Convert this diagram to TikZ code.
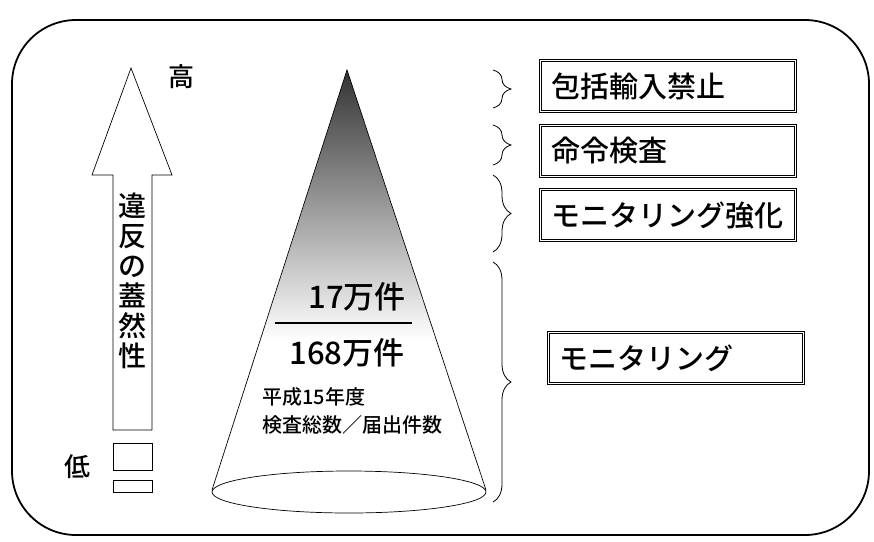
\documentclass[tikz,border=0pt]{standalone}
\usepackage{fontspec}
\setmainfont{Noto Sans CJK JP}[UprightFont=* Medium]
\usetikzlibrary{decorations.pathreplacing}

\tikzset{
	measure/.style={draw, double, line width=0.9pt, double distance=1.3pt, text width=233pt, inner xsep=11pt, minimum height=51pt, align=left, anchor=west, font=\fontsize{29}{32}\selectfont},
	curly/.style={decorate, decoration={brace, amplitude=18pt, aspect=0.5}, line width=0.8pt},
	lowbox/.style={draw, line width=0.7pt, minimum width=39pt, inner sep=0pt},
}

\begin{document}
\begin{tikzpicture}[x=1pt, y=-1pt]
			\useasboundingbox (0,0) rectangle (874,541);
			\draw[line width=1.8pt, rounded corners=64pt] (12,20) rectangle (869,535);

			\draw[line width=0.7pt, fill=white] (131,68) -- (172,175) -- (152,175) -- (152,430) -- (113,430) -- (113,175) -- (92,175) -- cycle;
			\node[align=center, font=\fontsize{28}{30}\selectfont] (likely) at (132,281) {違\\反\\の\\蓋\\然\\性};
			\node[font=\fontsize{26}{28}\selectfont] (high) at (181,77) {高};
			\node[font=\fontsize{26}{28}\selectfont] (low) at (77,467) {低};
			\node[lowbox, minimum height=27pt] (lowbox1) at (132.5,456.5) {};
			\node[lowbox, minimum height=12pt] (lowbox2) at (132.5,486) {};

			\begin{scope}
				\clip (347,70) -- (212,492) -- (486,492) -- cycle;
				\shade[top color=black!80, bottom color=white] (200,70) rectangle (500,340);
			\end{scope}
			\draw[line width=0.7pt] (212,490) -- (347,70) -- (486,490);
			\draw[line width=0.7pt] (349,492) ellipse [x radius=137, y radius=21];

			\node[font=\fontsize{31}{34}\selectfont] (checked) at (357,297) {17万件};
			\draw[line width=1.3pt] (275,323) -- (412,323);
			\node[font=\fontsize{31}{34}\selectfont] (filed) at (347,353) {168万件};
			\node[anchor=west, align=left, font=\fontsize{20}{28}\selectfont] (yearnote) at (259,411) {平成15年度\\検査総数／届出件数};

			\draw[curly] (493,70) -- (493,108);
			\draw[curly] (493,125) -- (493,165);
			\draw[curly] (493,175) -- (493,252);
			\draw[curly] (493,262) -- (493,502);

			\node[measure] (ban) at (540,86) {包括輸入禁止};
			\node[measure] (order) at (540,151) {命令検査};
			\node[measure] (strong) at (540,215) {モニタリング強化};
			\node[measure] (monitor) at (548,358) {モニタリング};
\end{tikzpicture}
\end{document}
